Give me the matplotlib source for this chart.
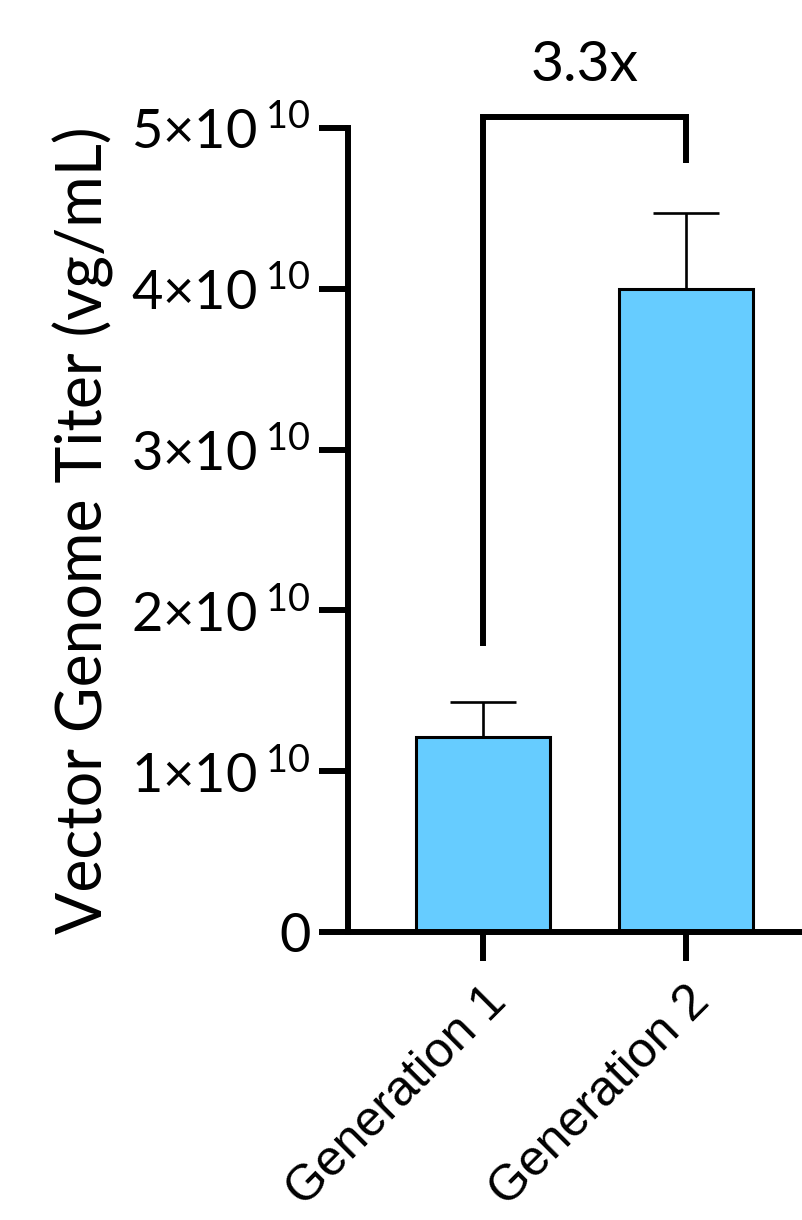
import matplotlib
matplotlib.use("Agg")
import matplotlib.pyplot as plt

# data
groups = ["Generation 1", "Generation 2"]
titer = [1.21e10, 4.0e10]
sd = [0.22e10, 0.47e10]
yticks = [0, 1e10, 2e10, 3e10, 4e10, 5e10]
ytick_labels = ["0", r"1$\times$10$\,^{10}$", r"2$\times$10$\,^{10}$", r"3$\times$10$\,^{10}$",
                r"4$\times$10$\,^{10}$", r"5$\times$10$\,^{10}$"]
fold_text = "3.3x"
bracket_left, bracket_top, bracket_right = 1.78e10, 5.07e10, 4.78e10

plt.rcParams["mathtext.fontset"] = "custom"
plt.rcParams["mathtext.rm"] = "Lato"
plt.rcParams["mathtext.default"] = "regular"
plt.rcParams["font.family"] = ["Lato", "DejaVu Sans"]

fig = plt.figure(figsize=(8.03, 12.2), dpi=100)
ax = fig.add_axes([0.4334, 0.2361, 0.5666, 0.659])

x = list(range(len(groups)))
ax.bar(x, titer, width=0.66, color="#66ccff", edgecolor="black", linewidth=2.2, zorder=2)
ax.errorbar(x, titer, yerr=[[0, 0], sd], fmt="none", ecolor="black",
            elinewidth=1.9, capsize=24, capthick=1.9, zorder=1)

ax.set_xlim(-0.665, 1.576)
ax.set_ylim(0, 5e10)
ax.set_yticks(yticks)
ax.set_yticklabels(ytick_labels, fontsize=39)
ax.set_xticks(x)
ax.set_xticklabels(groups, rotation=45, ha="right", rotation_mode="anchor",
                   fontsize=36, family="Liberation Sans")

for s in ["top", "right"]:
    ax.spines[s].set_visible(False)
for s in ["left", "bottom"]:
    ax.spines[s].set_linewidth(4.3)
ax.tick_params(axis="both", length=21, width=4.3, pad=6)
ax.tick_params(axis="x", pad=12)

ax.set_ylabel("Vector Genome Titer (vg/mL)", fontsize=45, labelpad=12)

# significance bracket
ax.plot([0, 0, 1, 1], [bracket_left, bracket_top, bracket_top, bracket_right],
        color="black", lw=4.3, clip_on=False, solid_joinstyle="miter", solid_capstyle="butt")
ax.text(0.5, 5.39e10, fold_text, ha="center", va="center", fontsize=41)

fig.savefig("out.png", dpi=100)
